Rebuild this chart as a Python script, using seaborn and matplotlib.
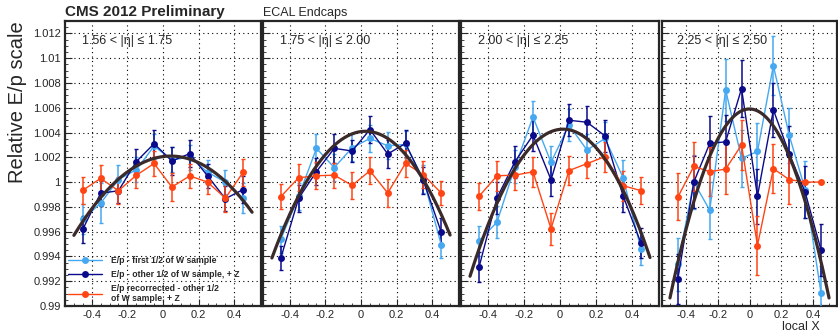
import numpy as np
import seaborn as sns
import matplotlib.pyplot as plt
from matplotlib.ticker import MultipleLocator, FuncFormatter

# bin centres in local X
local_x = [-0.45, -0.35, -0.25, -0.15, -0.05, 0.05, 0.15, 0.25, 0.35, 0.45]

eta_labels = ["1.56 < |η| ≤ 1.75", "1.75 < |η| ≤ 2.00",
              "2.00 < |η| ≤ 2.25", "2.25 < |η| ≤ 2.50"]

# E/p - first 1/2 of W sample (one list per eta panel)
first_half = [
    [0.9970, 0.9983, 1.0002, 1.0010, 1.0029, 1.0018, 1.0020, 1.0008, 1.0000, 0.9987],
    [0.99539, 0.99885, 1.00272, 1.00117, 1.00277, 1.00352, 1.00293, 1.00304, 1.00024, 0.99496],
    [0.99525, 0.99677, 1.00125, 1.00525, 1.00160, 1.00459, 1.00259, 1.00352, 1.00037, 0.99459],
    [0.99335, 1.00000, 0.99773, 1.00744, 1.00191, 1.00247, 1.00940, 1.00376, 0.99939, 0.99102],
]
first_half_err = [
    [0.0012, 0.0016, 0.0012, 0.0010, 0.0010, 0.0010, 0.0010, 0.0010, 0.0010, 0.0012],
    [0.0011, 0.0011, 0.0012, 0.0011, 0.0011, 0.0011, 0.0011, 0.0011, 0.0011, 0.0011],
    [0.0012, 0.0013, 0.0013, 0.0013, 0.0013, 0.0013, 0.0013, 0.0013, 0.0014, 0.0013],
    [0.0021, 0.0022, 0.0023, 0.0025, 0.0023, 0.0023, 0.0024, 0.0022, 0.0023, 0.0022],
]

# E/p - other 1/2 of W sample, + Z
other_half = [
    [0.9962, 0.9991, 0.9993, 1.00165, 1.0031, 1.0017, 1.0023, 1.0005, 0.99866, 0.9994],
    [0.99387, 0.99869, 1.00085, 1.00272, 1.00251, 1.00424, 1.00227, 1.00312, 1.00013, 0.99597],
    [0.99312, 0.99872, 1.00165, 1.00379, 1.00019, 1.00499, 1.00483, 1.00373, 0.99891, 0.99507],
    [0.99220, 1.00000, 1.00312, 1.00325, 1.00755, 0.99885, 1.00583, 1.00229, 0.99917, 0.99450],
]
other_half_err = [
    [0.0011, 0.0010, 0.0010, 0.0010, 0.0011, 0.0011, 0.0011, 0.0010, 0.0010, 0.0011],
    [0.0010, 0.0011, 0.0011, 0.0012, 0.0009, 0.0011, 0.0011, 0.0011, 0.0011, 0.0011],
    [0.0012, 0.0013, 0.0013, 0.0013, 0.0013, 0.0013, 0.0013, 0.0013, 0.0013, 0.0012],
    [0.0020, 0.0021, 0.0022, 0.0022, 0.0023, 0.0022, 0.0022, 0.0022, 0.0021, 0.0021],
]

# E/p recorrected - other 1/2 of W sample, + Z
recorrected = [
    [0.99934, 1.0003, 0.9993, 1.00055, 1.0015, 0.9996, 1.0005, 1.0000, 0.9987, 1.0008],
    [0.99883, 1.00035, 1.00051, 1.00056, 0.99973, 1.00091, 0.99912, 1.00152, 1.00059, 0.99912],
    [0.99885, 1.00051, 1.00056, 1.00083, 0.99624, 1.00093, 1.00149, 1.00205, 0.99971, 0.99931],
    [0.99880, 1.00127, 1.00084, 1.00105, 1.00300, 0.99488, 1.00108, 1.00020, 1.00000, 1.00000],
]
recorrected_err = [
    [0.0011, 0.0011, 0.0011, 0.0010, 0.0010, 0.0011, 0.0010, 0.0010, 0.0011, 0.0011],
    [0.0010, 0.0011, 0.0011, 0.0010, 0.0011, 0.0011, 0.0011, 0.0011, 0.0011, 0.0010],
    [0.0011, 0.0012, 0.0012, 0.0012, 0.0013, 0.0012, 0.0012, 0.0012, 0.0012, 0.0011],
    [0.0019, 0.0020, 0.0020, 0.0020, 0.0020, 0.0024, 0.0020, 0.0020, 0.0000, 0.0000],
]

# parabola fit: peak position, peak value, curvature (per panel)
fit_x0 = [0.043, 0.025, 0.017, 0.0]
fit_peak = [1.0021, 1.0041, 1.00427, 1.0059]
fit_curv = [0.0217, 0.0371, 0.0444, 0.061]

labels = ["E/p - first 1/2 of W sample",
          "E/p - other 1/2 of W sample, + Z",
          "E/p recorrected - other 1/2\nof W sample, + Z"]
colors = ["#45a8f0", "#0a0a8a", "#ff4514"]

sns.set_style("ticks")
plt.rcParams['font.family'] = ['Liberation Sans', 'DejaVu Sans']
plt.rcParams['axes.unicode_minus'] = False

W, H = 838, 334
fig = plt.figure(figsize=(W / 100, H / 100), dpi=100)

# panel pixel boxes (left, width)
boxes = [(65, 196), (263, 196), (461, 198), (662, 175)]
top_px, bot_px = 21, 306

axes = []
for i, (left, width) in enumerate(boxes):
    ax = fig.add_axes([left / W, 1 - bot_px / H, width / W, (bot_px - top_px) / H])
    axes.append(ax)

    series = [(first_half, first_half_err), (other_half, other_half_err),
              (recorrected, recorrected_err)]
    for k, (vals, errs) in enumerate(series):
        ax.errorbar(local_x, vals[i], yerr=errs[i], fmt='none', ecolor=colors[k],
                    elinewidth=1.1, capsize=1.5, capthick=1.0, zorder=3)
        sns.lineplot(x=local_x, y=vals[i], ax=ax, color=colors[k], lw=1.0,
                     marker='o', markersize=5, markeredgewidth=0,
                     label=labels[k] if i == 0 else None, zorder=4)

    fx = np.linspace(-0.5, 0.5, 200)
    fy = fit_peak[i] - fit_curv[i] * (fx - fit_x0[i]) ** 2
    sns.lineplot(x=fx, y=fy, ax=ax, color="#3b2a2a", lw=2.3, zorder=5)

    ax.set_xlim(-0.55, 0.55)
    ax.set_ylim(0.99, 1.013)
    ax.xaxis.set_major_locator(MultipleLocator(0.2))
    ax.xaxis.set_minor_locator(MultipleLocator(0.05))
    ax.yaxis.set_major_locator(MultipleLocator(0.002))
    ax.yaxis.set_minor_locator(MultipleLocator(0.0005))
    ax.xaxis.set_major_formatter(FuncFormatter(lambda v, p: f"{v:g}" if abs(v) > 1e-9 else "0"))
    ax.yaxis.set_major_formatter(FuncFormatter(lambda v, p: f"{round(v, 4):g}"))
    ax.tick_params(which='major', direction='in', length=5, width=0.8, labelsize=8, pad=3)
    ax.tick_params(which='minor', direction='in', length=2.5, width=0.6)
    ax.grid(True, which='major', color='black', lw=0.8, ls=(0, (1, 3)))
    for s in ax.spines.values():
        s.set_linewidth(1.6)
    if i > 0:
        ax.tick_params(axis='y', labelleft=False)
    ax.set_xlabel("")
    ax.set_ylabel("")
    ax.text(0.087, 0.93, eta_labels[i], transform=ax.transAxes, fontsize=9,
            va='center', ha='left', zorder=6)

    if i == 0:
        ax.legend(loc='upper left', bbox_to_anchor=(0.015, 0.175), frameon=False,
                  prop={'size': 6.2, 'weight': 'bold'}, handlelength=4.0,
                  handletextpad=1.0, labelspacing=0.55, borderpad=0, borderaxespad=0)
    elif ax.get_legend() is not None:
        ax.get_legend().remove()

fig.text(65 / W, 1 - 12 / H, "CMS 2012 Preliminary", fontsize=11, fontweight='bold',
         va='center', ha='left')
fig.text(263 / W, 1 - 13 / H, "ECAL Endcaps", fontsize=9, va='center', ha='left')
fig.text(18 / W, 1 - 102 / H, "Relative E/p scale", fontsize=14.5, rotation=90,
         va='center', ha='center')
fig.text(820 / W, 1 - 327 / H, "local X", fontsize=9, va='center', ha='right')

fig.savefig("out.png", dpi=100)
